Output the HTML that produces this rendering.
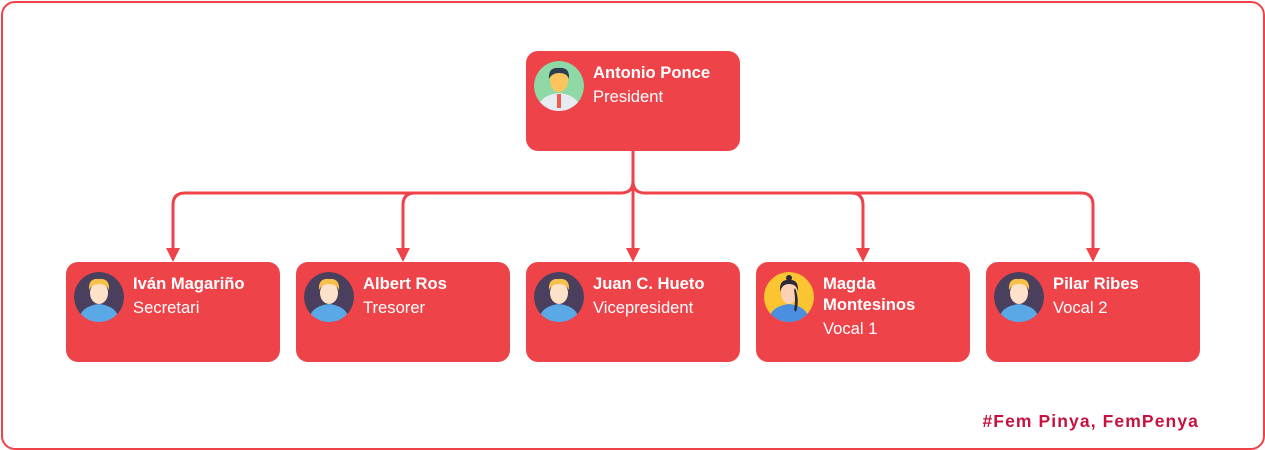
<!DOCTYPE html>
<html><head><meta charset="utf-8"><style>
body{margin:0;width:1265px;height:450px;background:#fff;position:relative;overflow:hidden;font-family:"Liberation Sans",sans-serif}
.frame{position:absolute;left:1px;top:1px;width:1260px;height:445px;border:2px solid #ef434a;border-radius:14px}
.box{position:absolute;width:214px;height:100px;background:#ef434a;border-radius:12px;color:#fff}
.av{position:absolute;left:8px;top:10px;width:50px;height:50px;border-radius:50%;overflow:hidden}
.t{position:absolute;left:67px;top:11px;font-size:16.6px;line-height:21px}
.t b{display:block;font-weight:bold}
.t span{display:block;margin-top:3px}
.foot{position:absolute;right:66px;top:411px;color:#c5123e;font-weight:bold;font-size:17.5px;letter-spacing:1.1px}
</style></head><body>
<div class="frame"></div>
<svg width="1265" height="450" style="position:absolute;left:0;top:0">
<g fill="none" stroke="#ef434a" stroke-width="3">
<path d="M633 151 V181 Q633 193 621 193 H185 Q173 193 173 205 V250"/>
<path d="M633 181 Q633 193 645 193 H1081 Q1093 193 1093 205 V250"/>
<path d="M633 151 V250"/>
<path d="M415 193 Q403 193 403 205 V250"/>
<path d="M851 193 Q863 193 863 205 V250"/>
</g>
<g fill="#ef434a">
<path d="M166 248 H180 L173 262Z"/><path d="M396 248 H410 L403 262Z"/><path d="M626 248 H640 L633 262Z"/><path d="M856 248 H870 L863 262Z"/><path d="M1086 248 H1100 L1093 262Z"/>
</g>
</svg>

<div class="box" style="left:526px;top:51px">
<svg class="av" viewBox="0 0 50 50"><circle cx="25" cy="25" r="25" fill="#8ed9a6"/><path d="M5 44 Q8 34 25 32 Q42 34 45 44 L40 50 H10Z" fill="#e6ecf1"/><rect x="23" y="33" width="4" height="14" fill="#ef5a4a"/><ellipse cx="25" cy="20" rx="9" ry="11" fill="#fcc45c"/><path d="M15 18 Q14 6 25 7 Q36 6 35 18 Q33 12 25 12 Q18 12 15 18Z" fill="#2c3e50"/></svg>
<div class="t"><b>Antonio Ponce</b><span>President</span></div></div>

<div class="box" style="left:66px;top:262px"><svg class="av" viewBox="0 0 50 50"><circle cx="25" cy="25" r="25" fill="#4a3f5c"/><path d="M6 44 Q9 34 25 32 Q41 34 44 44 L40 50 H10Z" fill="#5aa9e6"/><ellipse cx="25" cy="21" rx="9" ry="11" fill="#fde1c8"/><path d="M15 18 Q14 6 25 7 Q36 6 35 18 Q32 12 25 12 Q18 12 15 18Z" fill="#f6c04b"/></svg><div class="t"><b>Iván Magariño</b><span>Secretari</span></div></div>
<div class="box" style="left:296px;top:262px"><svg class="av" viewBox="0 0 50 50"><circle cx="25" cy="25" r="25" fill="#4a3f5c"/><path d="M6 44 Q9 34 25 32 Q41 34 44 44 L40 50 H10Z" fill="#5aa9e6"/><ellipse cx="25" cy="21" rx="9" ry="11" fill="#fde1c8"/><path d="M15 18 Q14 6 25 7 Q36 6 35 18 Q32 12 25 12 Q18 12 15 18Z" fill="#f6c04b"/></svg><div class="t"><b>Albert Ros</b><span>Tresorer</span></div></div>
<div class="box" style="left:526px;top:262px"><svg class="av" viewBox="0 0 50 50"><circle cx="25" cy="25" r="25" fill="#4a3f5c"/><path d="M6 44 Q9 34 25 32 Q41 34 44 44 L40 50 H10Z" fill="#5aa9e6"/><ellipse cx="25" cy="21" rx="9" ry="11" fill="#fde1c8"/><path d="M15 18 Q14 6 25 7 Q36 6 35 18 Q32 12 25 12 Q18 12 15 18Z" fill="#f6c04b"/></svg><div class="t"><b>Juan C. Hueto</b><span>Vicepresident</span></div></div>
<div class="box" style="left:756px;top:262px"><svg class="av" viewBox="0 0 50 50"><circle cx="25" cy="25" r="25" fill="#fbc531"/><path d="M6 44 Q9 34 25 32 Q41 34 44 44 L40 50 H10Z" fill="#4a8fe0"/><ellipse cx="25" cy="21" rx="8" ry="11" fill="#fcd0b4"/><path d="M16 20 Q15 7 25 8 Q35 7 34 20 Q33 12 25 12 Q18 12 16 20Z M31 16 Q36 28 32 40 L30 38 Q32 28 30 18Z" fill="#2c2a3a"/><circle cx="25" cy="6" r="3" fill="#2c2a3a"/></svg><div class="t"><b>Magda<br>Montesinos</b><span>Vocal 1</span></div></div>
<div class="box" style="left:986px;top:262px"><svg class="av" viewBox="0 0 50 50"><circle cx="25" cy="25" r="25" fill="#4a3f5c"/><path d="M6 44 Q9 34 25 32 Q41 34 44 44 L40 50 H10Z" fill="#5aa9e6"/><ellipse cx="25" cy="21" rx="9" ry="11" fill="#fde1c8"/><path d="M15 18 Q14 6 25 7 Q36 6 35 18 Q32 12 25 12 Q18 12 15 18Z" fill="#f6c04b"/></svg><div class="t"><b>Pilar Ribes</b><span>Vocal 2</span></div></div>

<div class="foot">#Fem Pinya, FemPenya</div>
</body></html>
